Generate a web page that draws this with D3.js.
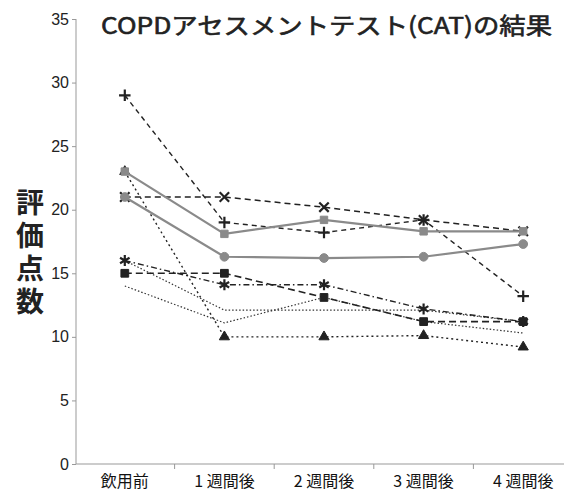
<!DOCTYPE html>
<html lang="ja">
<head>
<meta charset="UTF-8">
<title>COPDアセスメントテスト(CAT)の結果</title>
<script src="https://d3js.org/d3.v7.min.js"></script>
<style>
  body { margin: 0; background: #fff; }
  .tick text { font: 16px "Liberation Sans", sans-serif; fill: #222; }
  .xax .tick text { font: 16px "Noto Sans CJK JP", sans-serif; fill: #111; }
  .domain, .tick line { stroke: #999; }
</style>
</head>
<body>
<div id="chart"></div>
<script>
// カテゴリ
const categories = ["飲用前", "1 週間後", "2 週間後", "3 週間後", "4 週間後"];
const yTicks = [0, 5, 10, 15, 20, 25, 30, 35];

// 各系列の値
const grayTop    = [23, 18.1, 19.2, 18.3, 18.3];
const grayBottom = [21, 16.3, 16.2, 16.3, 17.3];
const plusSeries  = [29, 19, 18.2, 19.2, 13.2];
const crossSeries = [21, 21, 20.2, 19.2, 18.3];
const triSeries   = [23, 10, 10.0, 10.1, 9.2];
const starSeries  = [16, 14.1, 14.1, 12.2, 11.2];
const squareSeries = [15, 15, 13.1, 11.2, 11.2];
const dottedA = [16, 12.1, 12.1, 12.1, 11.2];
const dottedB = [14, 11.1, 13.1, 11.2, 10.3];

const W = 564, H = 493;
const svg = d3.select("#chart").append("svg")
  .attr("width", W).attr("height", H);

const x = d3.scaleBand().domain(categories).range([75, 573]);
const y = d3.scaleLinear().domain([0, 35]).range([464, 19]);
const cx = d => x(d) + x.bandwidth() / 2;

// 軸
svg.append("g").attr("class", "xax")
  .attr("transform", "translate(0,464)")
  .call(d3.axisBottom(x).tickSize(0).tickPadding(12))
  .call(g => g.select(".domain").attr("d", "M76,0H573"));

// 区切りの目盛り
svg.append("g").selectAll("line")
  .data(categories.slice(1))
  .enter().append("line")
  .attr("x1", d => x(d)).attr("x2", d => x(d))
  .attr("y1", 464).attr("y2", 469)
  .attr("stroke", "#999");

svg.append("g")
  .attr("transform", "translate(76,0)")
  .call(d3.axisLeft(y).tickValues(yTicks).tickSize(4).tickPadding(3))
  .call(g => g.select(".domain").attr("d", "M0,19V464"));

// 系列
const series = [
  { v: dottedA, color: "#333", width: 1.2, dash: "1.5,2", marker: null },
  { v: dottedB, color: "#333", width: 1.2, dash: "1.5,2", marker: null },
  { v: triSeries, color: "#222", width: 1.4, dash: "2,3", marker: d3.symbolTriangle, size: 45, fill: true },
  { v: squareSeries, color: "#222", width: 1.6, dash: "7,4", marker: d3.symbolSquare, size: 60, fill: true },
  { v: starSeries, color: "#222", width: 1.4, dash: "6,3,1.5,3", marker: d3.symbolAsterisk, size: 85, fill: false },
  { v: crossSeries, color: "#222", width: 1.5, dash: "6,4", marker: d3.symbolTimes, size: 60, fill: false },
  { v: plusSeries, color: "#222", width: 1.4, dash: "5,4", marker: d3.symbolPlus, size: 45, fill: false },
  { v: grayBottom, color: "#8a8a8a", width: 2.2, dash: null, marker: d3.symbolCircle, size: 60, fill: true },
  { v: grayTop, color: "#8a8a8a", width: 2.2, dash: null, marker: d3.symbolSquare, size: 55, fill: true }
];

const line = d3.line().x((d, i) => cx(categories[i])).y(d => y(d));

series.forEach(s => {
  svg.append("path")
    .datum(s.v)
    .attr("d", line)
    .attr("fill", "none")
    .attr("stroke", s.color)
    .attr("stroke-width", s.width)
    .attr("stroke-dasharray", s.dash);

  if (s.marker) {
    svg.append("g").selectAll("path")
      .data(s.v)
      .enter().append("path")
      .attr("transform", (d, i) => `translate(${cx(categories[i])},${y(d)})`)
      .attr("d", d3.symbol().type(s.marker).size(s.size))
      .attr("fill", s.fill ? s.color : "none")
      .attr("stroke", s.color)
      .attr("stroke-width", s.fill ? 1 : 2.2);
  }
});

// タイトル
svg.append("text")
  .attr("x", 101).attr("y", 34)
  .attr("textLength", 451).attr("lengthAdjust", "spacingAndGlyphs")
  .style("font", "normal 23px 'Noto Sans CJK JP', sans-serif")
  .attr("fill", "#222")
  .attr("stroke", "#222").attr("stroke-width", 0.6)
  .text("COPDアセスメントテスト(CAT)の結果");

// 縦軸ラベル(縦書き)
svg.append("text")
  .attr("x", 30).attr("y", 188)
  .style("writing-mode", "vertical-rl")
  .style("letter-spacing", "5px")
  .style("font", "bold 28px 'Noto Sans CJK JP', sans-serif")
  .attr("fill", "#222")
  .text("評価点数");
</script>
</body>
</html>
